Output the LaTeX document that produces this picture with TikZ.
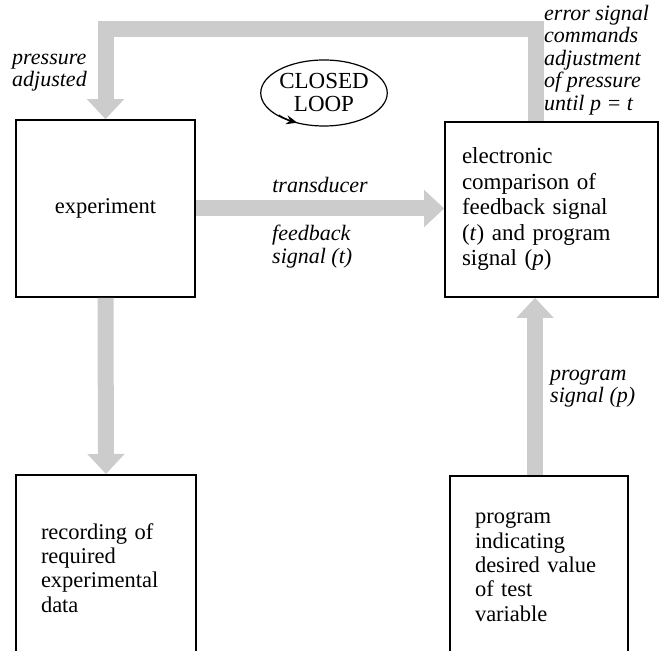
\documentclass[tikz,border=0pt]{standalone}
\usepackage{fontspec}
\setmainfont{Liberation Serif}
\usepackage{tikz}
\usetikzlibrary{arrows.meta, positioning, calc, shapes}
\definecolor{flowgray}{RGB}{204,204,204}

\tikzset{
  block/.style={draw, line width=1.6pt, align=left, font=\fontsize{22.5}{24.4}\selectfont},
  flow/.style={line width=16pt, flowgray, -{Triangle[length=20pt,width=36pt]}},
  note/.style={align=left, inner sep=0pt, font=\fontsize{22}{22.4}\selectfont\itshape}
}

\begin{document}
\begin{tikzpicture}[x=1pt,y=1pt]
\clip (0,0) rectangle (660,650);
\useasboundingbox (0,0) rectangle (660,650);
% boxes
\node[block, align=center, minimum width=179pt, minimum height=177pt] (exp) at (105.5,441.5) {experiment};
\node[block, minimum height=175pt, inner xsep=17pt, text width=179pt, font=\fontsize{23}{25.5}\selectfont] (cmp) at (551.5,440.5) {electronic\\comparison of\\feedback signal\\(\textit{t}) and program\\signal (\textit{p})};
\node[block, anchor=north, minimum height=186pt, inner xsep=25pt, text width=130pt] (rec) at (106,176) {recording of\\required\\experimental\\data};
\node[block, anchor=north, minimum height=182pt, inner xsep=25pt, text width=128pt] (prg) at (539,175) {program\\indicating\\desired value\\of test\\variable};
\node[ellipse, draw, line width=1.2pt, inner sep=0pt, minimum width=122pt, minimum height=66pt, align=center, font=\fontsize{23}{23}\selectfont] (loop) at (324,557) {CLOSED\\LOOP};
\draw[line width=1.2pt, -{Stealth[length=11pt,width=9pt]}] (loop.center) ++(222:61pt and 33pt) arc[start angle=222, end angle=244, x radius=61pt, y radius=33pt];
% gray arrows
\draw[flow] ([xshift=-16pt]cmp.north) |- ([yshift=90pt]exp.north) -- (exp.north);
\draw[flow] (exp.east) -- (exp.east -| cmp.west);
\draw[flow] (exp.south) -- (rec.north);
\draw[flow] ([xshift=-4pt]prg.north) -- ([xshift=-4pt]prg.north |- cmp.south);
% labels
\node[note, anchor=north west] (padj) at (12,596) {pressure\\adjusted};
\node[note, anchor=north west] (err) at (544,645) {error signal\\commands\\adjustment\\of pressure\\until \textit{p} = \textit{t}};
\node[note, anchor=base] (trd) at (320,457) {transducer};
\node[note, anchor=north west] (fbs) at (272,425) {feedback\\signal (\textit{t})};
\node[note, anchor=north west] (pgs) at (550,280) {program\\signal (\textit{p})};
\end{tikzpicture}
\end{document}
